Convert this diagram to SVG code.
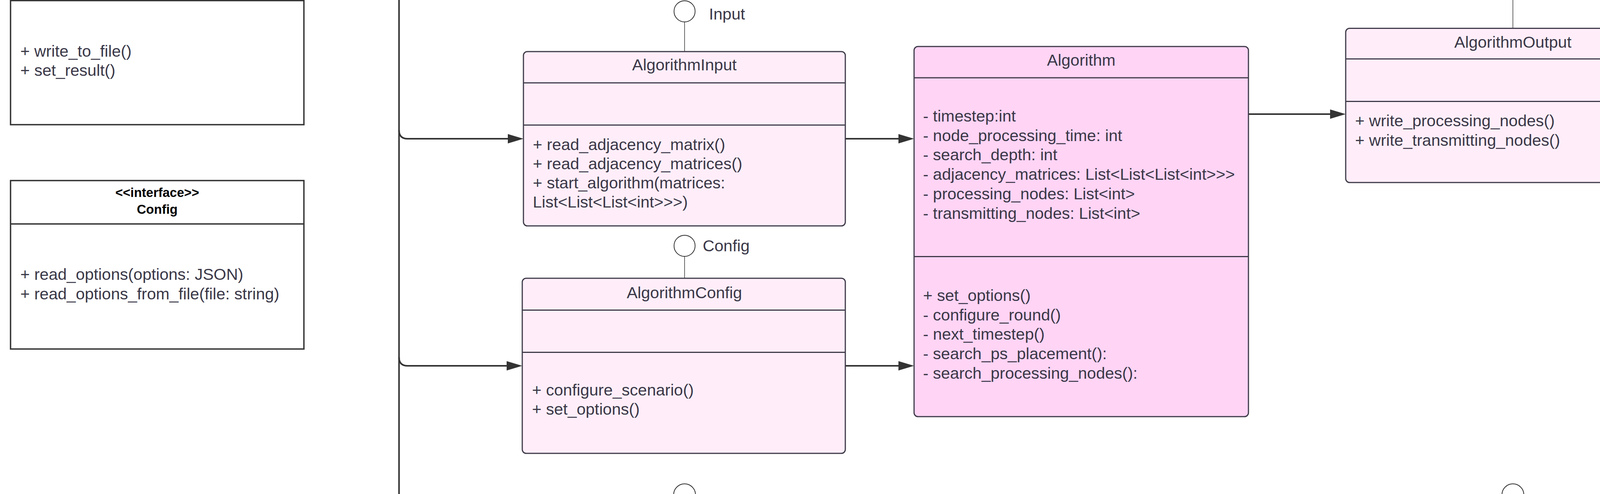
<svg xmlns="http://www.w3.org/2000/svg" width="4637" height="1264" viewBox="0 0 4637 1264">
<style>
  .t { font-family: "Liberation Sans", Arial, sans-serif; font-size: 41.5px; fill: #3a3848; }
  .c { text-anchor: middle; }
  .b { font-family: "Liberation Sans", Arial, sans-serif; font-size: 33px; font-weight: bold; fill: #000; text-anchor: middle; }
  .plain { fill: #ffffff; stroke: #333333; stroke-width: 3.5; }
  .cls { fill: #ffeef9; stroke: #3f3b4a; stroke-width: 3; }
  .main { fill: #ffd4f5; stroke: #3f3b4a; stroke-width: 3; }
  .div { stroke: #3f3b4a; stroke-width: 3; fill: none; }
  .divp { stroke: #333333; stroke-width: 3.5; fill: none; }
  .conn { stroke: #333333; stroke-width: 4; fill: none; }
  .stem { stroke: #333333; stroke-width: 1.5; fill: none; }
  .ball { fill: #ffffff; stroke: #333333; stroke-width: 2; }
</style>
<defs>
  <marker id="arr" markerUnits="userSpaceOnUse" markerWidth="40" markerHeight="24" refX="0" refY="12" orient="auto" overflow="visible">
    <path d="M0,0 L40,12 L0,24 Z" fill="#333333"/>
  </marker>
</defs>
<rect width="4637" height="1264" fill="#ffffff"/>

<g id="connectors">
  <line class="conn" x1="1021.5" y1="0" x2="1021.5" y2="1264"/>
  <path class="conn" d="M1021.5,333 Q1021.5,355 1043.5,355 L1300,355" marker-end="url(#arr)"/>
  <path class="conn" d="M1021.5,914 Q1021.5,936 1043.5,936 L1297,936" marker-end="url(#arr)"/>
  <path class="conn" d="M2164,355 L2300,355" marker-end="url(#arr)"/>
  <path class="conn" d="M2164,936 L2300,936" marker-end="url(#arr)"/>
  <path class="conn" d="M3196,292 L3405,292" marker-end="url(#arr)"/>
  <path class="conn" d="M4301,270 L4452,270 Q4472,270 4472,250 L4472,0"/>
  <line x1="4565" y1="0" x2="4565" y2="1264" stroke="#000000" stroke-width="5"/>
</g>

<g id="writer-box">
  <rect class="plain" x="27" y="-60" width="751" height="379"/>
  <line class="divp" x1="27" y1="1.5" x2="778" y2="1.5"/>
  <text class="t" x="52" y="145">+ write_to_file()</text>
  <text class="t" x="52" y="194">+ set_result()</text>
</g>

<g id="config-interface">
  <rect class="plain" x="27" y="462" width="751" height="431"/>
  <line class="divp" x1="27" y1="573" x2="778" y2="573"/>
  <text class="b" x="402.5" y="504">&lt;&lt;interface&gt;&gt;</text>
  <text class="b" x="402.5" y="547">Config</text>
  <text class="t" x="52" y="716">+ read_options(options: JSON)</text>
  <text class="t" x="52" y="766">+ read_options_from_file(file: string)</text>
</g>

<g id="input-lollipop">
  <line class="stem" x1="1752.5" y1="56" x2="1752.5" y2="132"/>
  <circle class="ball" cx="1752.5" cy="29" r="27"/>
  <text class="t" x="1815" y="50">Input</text>
</g>

<g id="algorithm-input">
  <rect class="cls" x="1340" y="132" width="824" height="446" rx="10"/>
  <line class="div" x1="1340" y1="212" x2="2164" y2="212"/>
  <line class="div" x1="1340" y1="320" x2="2164" y2="320"/>
  <text class="t c" x="1752" y="180">AlgorithmInput</text>
  <text class="t" x="1364" y="384">+ read_adjacency_matrix()</text>
  <text class="t" x="1364" y="433">+ read_adjacency_matrices()</text>
  <text class="t" x="1364" y="482">+ start_algorithm(matrices:</text>
  <text class="t" x="1364" y="531">List&lt;List&lt;List&lt;int&gt;&gt;&gt;)</text>
</g>

<g id="config-lollipop">
  <line class="stem" x1="1752.5" y1="656" x2="1752.5" y2="712"/>
  <circle class="ball" cx="1752.5" cy="629" r="27"/>
  <text class="t" x="1799" y="643">Config</text>
</g>

<g id="algorithm-config">
  <rect class="cls" x="1337" y="712" width="827" height="448" rx="10"/>
  <line class="div" x1="1337" y1="793.5" x2="2164" y2="793.5"/>
  <line class="div" x1="1337" y1="901.5" x2="2164" y2="901.5"/>
  <text class="t c" x="1752" y="763">AlgorithmConfig</text>
  <text class="t" x="1362" y="1012">+ configure_scenario()</text>
  <text class="t" x="1362" y="1061">+ set_options()</text>
</g>

<g id="bottom-lollipop-1">
  <circle class="ball" cx="1752.5" cy="1266" r="28"/>
</g>

<g id="algorithm">
  <rect class="main" x="2340" y="119" width="856" height="947" rx="10"/>
  <line class="div" x1="2340" y1="199" x2="3196" y2="199"/>
  <line class="div" x1="2340" y1="656.5" x2="3196" y2="656.5"/>
  <text class="t c" x="2768" y="168">Algorithm</text>
  <text class="t" x="2363" y="311">- timestep:int</text>
  <text class="t" x="2363" y="361">- node_processing_time: int</text>
  <text class="t" x="2363" y="410">- search_depth: int</text>
  <text class="t" x="2363" y="460">- adjacency_matrices: List&lt;List&lt;List&lt;int&gt;&gt;&gt;</text>
  <text class="t" x="2363" y="510">- processing_nodes: List&lt;int&gt;</text>
  <text class="t" x="2363" y="560">- transmitting_nodes: List&lt;int&gt;</text>
  <text class="t" x="2363" y="770">+ set_options()</text>
  <text class="t" x="2363" y="820">- configure_round()</text>
  <text class="t" x="2363" y="869">- next_timestep()</text>
  <text class="t" x="2363" y="919">- search_ps_placement():</text>
  <text class="t" x="2363" y="969">- search_processing_nodes():</text>
</g>

<g id="output-lollipop">
  <line class="stem" x1="3873" y1="0" x2="3873" y2="72.5"/>
</g>

<g id="algorithm-output">
  <rect class="cls" x="3445" y="72.5" width="856" height="394.5" rx="10"/>
  <line class="div" x1="3445" y1="150.7" x2="4301" y2="150.7"/>
  <line class="div" x1="3445" y1="259.5" x2="4301" y2="259.5"/>
  <text class="t c" x="3873" y="122">AlgorithmOutput</text>
  <text class="t" x="3469" y="323">+ write_processing_nodes()</text>
  <text class="t" x="3469" y="373">+ write_transmitting_nodes()</text>
</g>

<g id="bottom-lollipop-2">
  <circle class="ball" cx="3873" cy="1266" r="28"/>
</g>
</svg>
